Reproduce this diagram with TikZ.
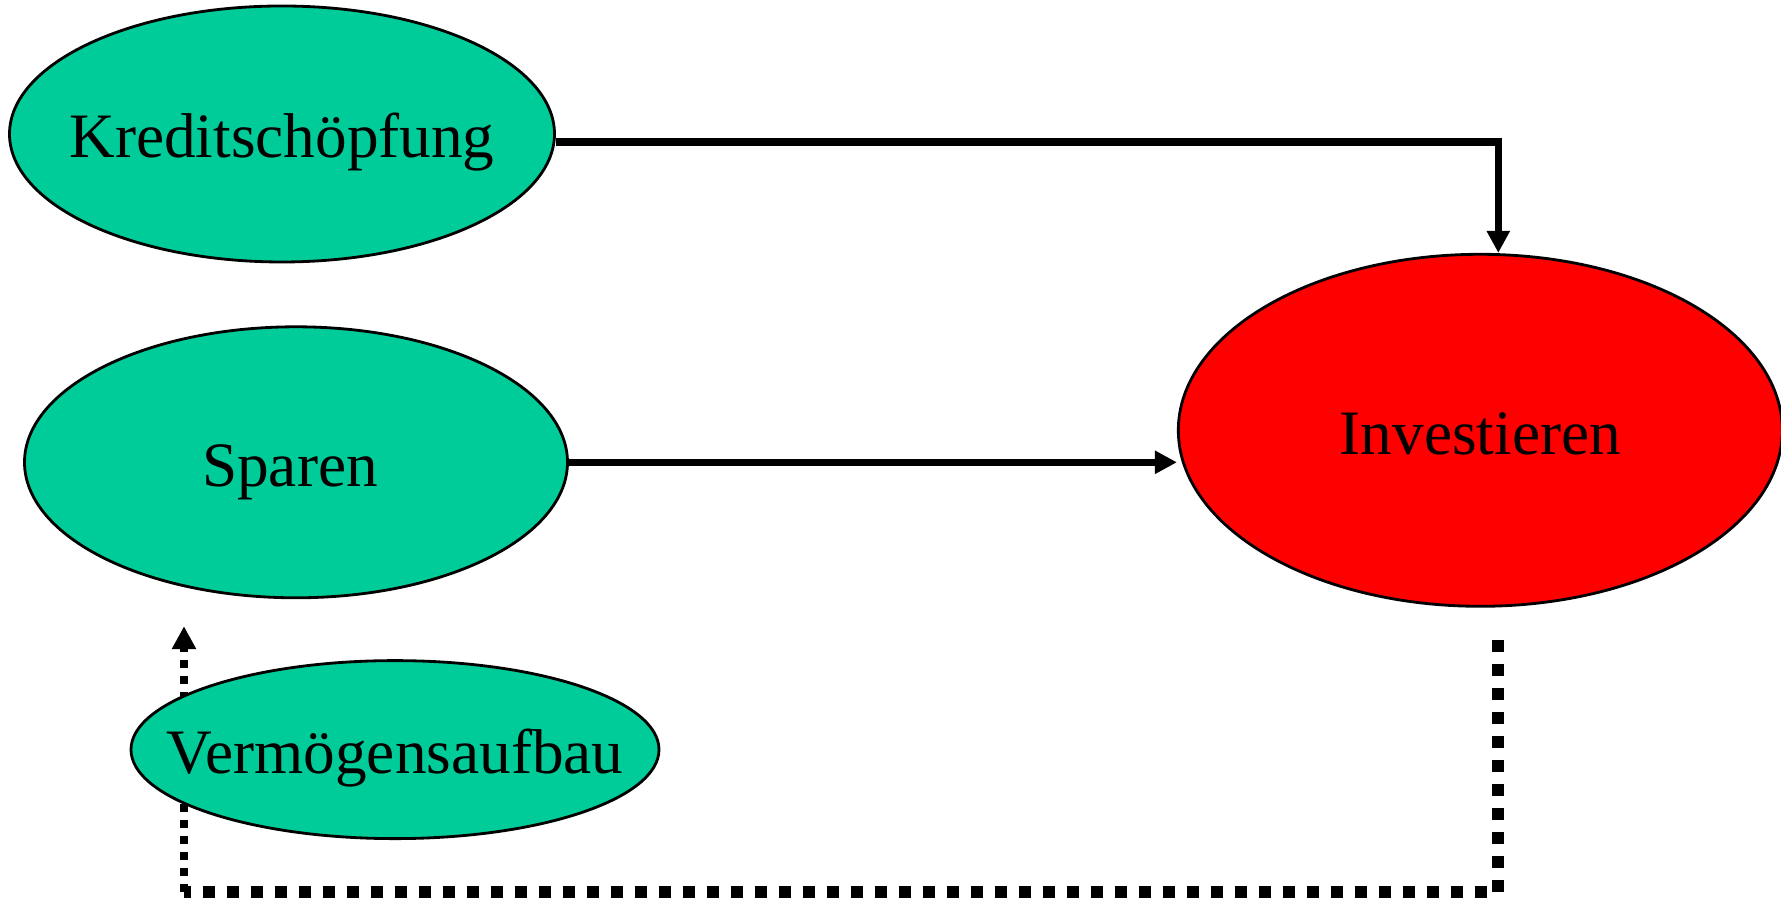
\documentclass[tikz,border=0pt]{standalone}
\usepackage{fontspec}
\setmainfont{Liberation Serif}
\usepackage{tikz}
\usetikzlibrary{shapes,arrows.meta,positioning,backgrounds}

\definecolor{oval}{RGB}{0,204,153}

\begin{document}
\begin{tikzpicture}[
        >={Triangle[width=0.22cm,length=0.22cm]},
        every node/.style={align=center, font=\fontsize{18pt}{22pt}\selectfont, text height=17pt, text depth=3.4pt},
        source/.style={ellipse, draw=black, line width=0.8pt, fill=oval, inner xsep=-1.2cm},
        target/.style={ellipse, draw=black, line width=0.8pt, fill=red, inner xsep=-1.2cm},
        flow/.style={->, line width=0.075cm},
        back/.style={line width=0.12cm, dash pattern=on 0.12cm off 0.12cm},
        backtip/.style={->, line width=0.08cm, dash pattern=on 0.08cm off 0.08cm, >={Triangle[width=0.23cm,length=0.23cm]}}
    ]
        \useasboundingbox (0,0) rectangle (17.81,-8.99);

        % Nodes
        \node[source, minimum width=5.45cm, minimum height=2.56cm] (kredit) at (2.82,-1.34) {Kreditschöpfung};
        \node[source, minimum width=5.43cm, minimum height=2.71cm, below=0.62cm of kredit, xshift=0.14cm] (sparen) {\hspace*{-0.12cm}Sparen};
        \node[source, minimum width=5.28cm, minimum height=1.78cm, below=0.6cm of sparen, xshift=0.99cm] (vermoegen) {Vermögensaufbau};
        \node[target, minimum width=6.04cm, minimum height=3.52cm, right=6.08cm of sparen, yshift=0.32cm] (invest) {Investieren};

        \coordinate (corner) at ([xshift=-1.12cm]sparen.south |- 0,-8.92);

        % Connections
        \draw[flow] ([yshift=-0.08cm]kredit.east) -| ([xshift=0.18cm]invest.north);
        \draw[flow] (sparen.east) -- (sparen.east -| invest.west);

        % return path runs behind the lower oval
        \begin{scope}[on background layer]
            \draw[back] ([xshift=0.18cm, yshift=-0.32cm]invest.south) |- (corner);
            \draw[backtip] (corner) -- ([xshift=-1.12cm, yshift=-0.27cm]sparen.south);
        \end{scope}

    \end{tikzpicture}
\end{document}
